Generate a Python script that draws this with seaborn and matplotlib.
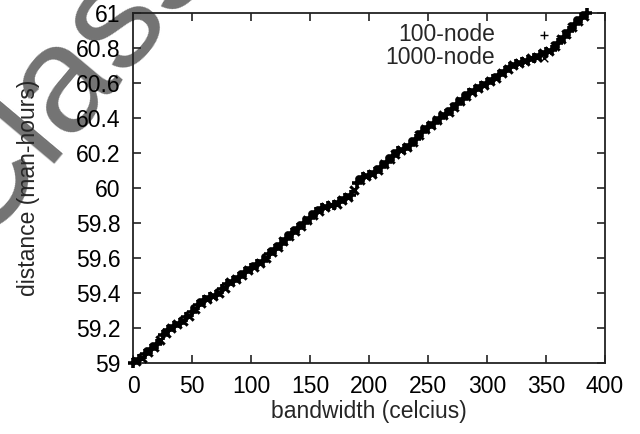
import numpy as np
import pandas as pd
import matplotlib
matplotlib.use('Agg')
import matplotlib.pyplot as plt
import seaborn as sns

# bandwidth grids (celcius) and distance readings (man-hours)
bw_100 = np.arange(0, 390, 5)
dist_100 = [
    59.00, 59.02, 59.05, 59.08, 59.11, 59.16, 59.19, 59.21, 59.23, 59.26,
    59.29, 59.33, 59.36, 59.375, 59.39, 59.42, 59.45, 59.47, 59.49, 59.52,
    59.545, 59.565, 59.58, 59.62, 59.65, 59.68, 59.71, 59.74, 59.77, 59.80,
    59.83, 59.86, 59.885, 59.895, 59.905, 59.92, 59.94, 59.96, 60.03, 60.06,
    60.075, 60.09, 60.12, 60.15, 60.18, 60.21, 60.22, 60.245, 60.28, 60.32,
    60.35, 60.37, 60.40, 60.425, 60.45, 60.48, 60.51, 60.54, 60.56, 60.585,
    60.60, 60.62, 60.645, 60.67, 60.69, 60.71, 60.72, 60.73, 60.745, 60.76,
    60.775, 60.79, 60.83, 60.865, 60.90, 60.94, 60.97, 61.00,
]
bw_1000 = np.arange(2.5, 385, 5)
dist_1000 = [
    59.01, 59.03, 59.06, 59.09, 59.13, 59.17, 59.20, 59.22, 59.24, 59.27,
    59.31, 59.34, 59.365, 59.38, 59.40, 59.43, 59.46, 59.48, 59.50, 59.53,
    59.55, 59.57, 59.60, 59.635, 59.665, 59.695, 59.725, 59.755, 59.785, 59.815,
    59.845, 59.87, 59.89, 59.90, 59.91, 59.93, 59.95, 59.99, 60.045, 60.07,
    60.08, 60.105, 60.135, 60.165, 60.195, 60.215, 60.235, 60.26, 60.30, 60.335,
    60.36, 60.39, 60.415, 60.435, 60.465, 60.495, 60.525, 60.55, 60.57, 60.59,
    60.61, 60.63, 60.655, 60.68, 60.70, 60.715, 60.725, 60.74, 60.75, 60.77,
    60.78, 60.81, 60.85, 60.88, 60.92, 60.955, 60.985,
]

df = pd.DataFrame({
    'bandwidth': np.concatenate([bw_1000, bw_100]),
    'distance': dist_1000 + dist_100,
    'series': ['1000-node'] * len(bw_1000) + ['100-node'] * len(bw_100),
})

FS = 16.5
sns.set_style('ticks')
plt.rcParams['font.family'] = ['Liberation Sans', 'DejaVu Sans']
plt.rcParams['font.size'] = FS

fig = plt.figure(figsize=(6.4, 4.34), dpi=100)
ax = fig.add_axes([0.208, 0.164, 0.737, 0.806])
ax.patch.set_alpha(0)

# watermark, mostly off the top-left corner, under everything else
fig.text(-0.04, 0.425, 'Class', fontsize=110, color='#737373', rotation=50,
         rotation_mode='anchor', ha='left', va='baseline', zorder=-5)

sns.scatterplot(data=df[df.series == '1000-node'], x='bandwidth', y='distance',
                marker='x', s=36, linewidth=2.2, color='black', ax=ax,
                label='1000-node', zorder=3, clip_on=False)
sns.scatterplot(data=df[df.series == '100-node'], x='bandwidth', y='distance',
                marker='+', s=62, linewidth=2.6, color='black', ax=ax,
                label='100-node', zorder=4, clip_on=False)

ax.set_xlim(0, 400)
ax.set_ylim(59, 61)
ax.set_xticks(range(0, 401, 50))
ax.set_yticks([59, 59.2, 59.4, 59.6, 59.8, 60, 60.2, 60.4, 60.6, 60.8, 61])
ax.set_yticklabels(['59', '59.2', '59.4', '59.6', '59.8', '60', '60.2', '60.4',
                    '60.6', '60.8', '61'])
ax.tick_params(direction='in', length=6, width=1.2, top=True, right=True,
               labelsize=FS, pad=9, colors='#222222', labelcolor='black')
for s in ax.spines.values():
    s.set_linewidth(1.3)
    s.set_color('#222222')
ax.set_xlabel('bandwidth (celcius)', fontsize=FS, labelpad=1)
ax.set_ylabel('distance (man-hours)', fontsize=FS, labelpad=26)

h, l = ax.get_legend_handles_labels()
leg = ax.legend(h[::-1], l[::-1], loc='upper right', frameon=False,
                markerfirst=False, fontsize=FS, labelspacing=0.0,
                handletextpad=1.15, borderaxespad=0.2,
                bbox_to_anchor=(0.949, 1.012))
for hd in leg.legend_handles:
    hd.set_sizes([30])
    hd.set_linewidth(1.0)

fig.savefig('out.png', dpi=100)
